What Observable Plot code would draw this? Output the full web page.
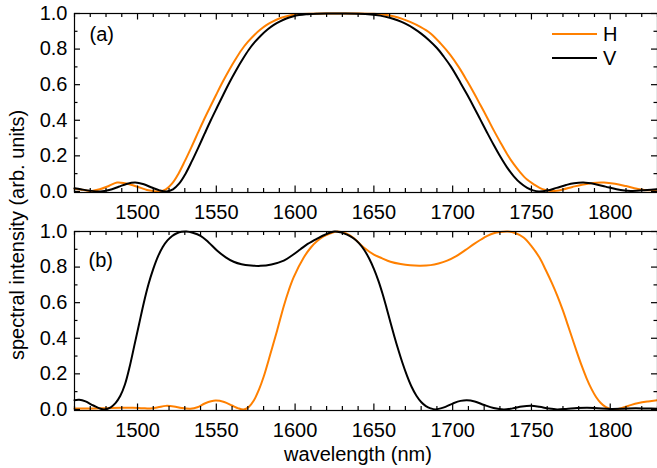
<!DOCTYPE html>
<html>
<head>
<meta charset="utf-8">
<script src="https://cdn.jsdelivr.net/npm/d3@7"></script>
<script src="https://cdn.jsdelivr.net/npm/@observablehq/plot@0.6"></script>
<style>
  html, body { margin: 0; padding: 0; background: #fff; }
  #wrap { position: relative; width: 657px; height: 468px; font-family: "Liberation Sans", Arial, sans-serif; }
  #legend { position: absolute; left: 552px; top: 22px; font-size: 20px; line-height: 24px; color: #000; }
  #legend .row { display: flex; align-items: center; height: 24px; }
  #legend svg { display: block; margin-right: 6px; }
</style>
</head>
<body>
<div id="wrap"></div>
<script>
// ---- data ----
const seriesNames = ["H", "V"];
const seriesColors = ["#ff8000", "#000000"];
const panels = ["a", "b"];
const panelLabels = ["(a)", "(b)"];
const xLabel = "wavelength (nm)";
const yLabel = "spectral intensity (arb. units)";
const xMajorTicks = [1500, 1550, 1600, 1650, 1700, 1750, 1800];
const yMajorTicks = [0, 0.2, 0.4, 0.6, 0.8, 1.0];
const yTickLabels = ["0.0", "0.2", "0.4", "0.6", "0.8", "1.0"];

// panel (a), H polarisation
const panelA_H = [
  [1460,0.015],[1466,0.008],[1471,0.003],[1476,0.012],[1482,0.032],[1487,0.05],[1492,0.046],
  [1497,0.035],[1502,0.02],[1506,0.008],[1510,0.002],[1514,0.0],[1518,0.012],[1522,0.045],
  [1526,0.1],[1530,0.17],[1534,0.245],[1538,0.323],[1542,0.4],[1546,0.473],[1550,0.545],
  [1554,0.615],[1558,0.68],[1562,0.74],[1566,0.795],[1570,0.84],[1574,0.878],[1578,0.91],
  [1582,0.936],[1586,0.956],[1590,0.972],[1594,0.983],[1598,0.991],[1602,0.996],[1610,0.999],
  [1620,1.0],[1630,1.0],[1640,1.0],[1650,0.998],[1657,0.993],[1663,0.983],[1668,0.97],[1673,0.953],
  [1679.5,0.925],[1686,0.888],[1692.3,0.832],[1698.6,0.766],[1704,0.697],[1709.2,0.62],[1713.5,0.553],
  [1717.7,0.484],[1722,0.413],[1726.1,0.343],[1730.4,0.274],[1734.6,0.209],[1738.8,0.153],
  [1743,0.106],[1747.2,0.067],[1751.5,0.04],[1755.2,0.02],[1758.9,0.008],[1762,0.003],[1766,0.004],
  [1770,0.011],[1776,0.025],[1782,0.038],[1789,0.048],[1796,0.05],[1803,0.043],[1810,0.03],
  [1817,0.015],[1823,0.007],[1830,0.01]
];
// panel (a), V polarisation
const panelA_V = [
  [1460,0.018],[1464,0.012],[1470,0.004],[1476.5,0.0],[1482,0.008],[1488,0.026],[1493,0.042],
  [1498.5,0.05],[1504,0.04],[1509,0.022],[1514,0.006],[1518.5,0.0],[1522.5,0.012],[1526.5,0.045],
  [1530.5,0.1],[1534.5,0.17],[1538.5,0.245],[1542.5,0.323],[1546.5,0.4],[1550.5,0.473],
  [1554.5,0.545],[1558.5,0.615],[1562.5,0.68],[1566.5,0.74],[1570.5,0.795],[1574.5,0.84],
  [1578.5,0.878],[1582.5,0.91],[1586.5,0.936],[1590.5,0.956],[1594.5,0.972],[1598.5,0.983],
  [1602.5,0.991],[1607,0.996],[1614,0.999],[1620,1.0],[1630,1.0],[1640,0.999],[1648,0.995],
  [1654,0.988],[1660,0.976],[1665,0.962],[1670,0.943],[1675,0.918],[1680,0.887],[1685,0.85],
  [1690,0.806],[1694.4,0.757],[1699,0.7],[1705,0.61],[1709,0.547],[1713.4,0.475],[1717.5,0.405],
  [1721.9,0.33],[1726,0.262],[1730.4,0.193],[1734.5,0.135],[1738.8,0.085],[1743,0.047],
  [1747.3,0.02],[1751,0.006],[1754.7,0.0],[1760,0.005],[1766,0.02],[1772,0.036],[1777,0.046],
  [1783,0.05],[1790,0.042],[1797,0.027],[1804,0.012],[1809,0.005],[1813,0.003],[1820,0.006],
  [1826,0.01],[1830,0.012]
];
// panel (b), H polarisation
const panelB_H = [
  [1460,0.005],[1470,0.005],[1480,0.007],[1490,0.009],[1497,0.01],[1503,0.007],[1508,0.005],
  [1513,0.012],[1518,0.02],[1523,0.017],[1528,0.008],[1533.5,0.004],[1538,0.012],[1543,0.035],
  [1549.5,0.05],[1555,0.042],[1560,0.022],[1564,0.006],[1567.4,0.0],[1570.5,0.013],[1573.8,0.05],
  [1577,0.11],[1580.1,0.185],[1584.4,0.314],[1588.6,0.444],[1592.8,0.58],[1596,0.67],[1599.2,0.745],
  [1605.5,0.854],[1610,0.91],[1614,0.946],[1618,0.972],[1622.5,0.99],[1627,1.0],
  [1632,0.99],[1637,0.965],[1643.6,0.91],[1650,0.87],[1655,0.85],[1660.5,0.83],[1667,0.817],
  [1673,0.81],[1679.6,0.808],[1686,0.811],[1691,0.82],[1696.5,0.836],[1702,0.86],[1708,0.895],
  [1713.4,0.929],[1718,0.955],[1722,0.975],[1726.1,0.99],[1730,0.997],[1735,1.0],[1740,0.99],
  [1745,0.966],[1750,0.918],[1755,0.855],[1759,0.785],[1763,0.71],[1766.5,0.637],[1770,0.555],
  [1773,0.477],[1776,0.397],[1779,0.318],[1782,0.243],[1785,0.175],[1788,0.117],[1791,0.07],
  [1794,0.036],[1797,0.014],[1800,0.003],[1802.5,0.0],[1807,0.007],[1812.9,0.024],[1818,0.036],
  [1824,0.045],[1830,0.052]
];
// panel (b), V polarisation
const panelB_V = [
  [1460,0.052],[1463,0.054],[1467,0.045],[1472,0.022],[1478.6,0.0],[1483,0.012],[1486,0.035],
  [1489,0.075],[1492,0.14],[1495,0.24],[1498,0.36],[1501,0.48],[1504,0.6],[1507,0.705],[1510,0.79],
  [1513,0.86],[1516,0.913],[1519,0.95],[1522,0.975],[1525,0.99],[1528,0.998],[1531,1.0],[1535,0.993],
  [1540,0.976],[1545,0.94],[1550.6,0.892],[1556,0.855],[1561,0.83],[1566,0.816],[1572,0.809],
  [1578,0.807],[1585,0.815],[1592.8,0.836],[1598,0.865],[1603.4,0.9],[1608,0.93],[1614,0.96],
  [1619,0.982],[1625,1.0],[1629,0.995],[1633,0.982],[1637,0.962],[1640.5,0.935],[1644,0.895],
  [1647,0.848],[1650,0.79],[1653,0.72],[1655.5,0.65],[1658,0.572],[1660.5,0.49],[1663,0.41],
  [1665.5,0.335],[1668,0.265],[1671,0.19],[1674,0.126],[1677,0.077],[1680,0.042],[1683,0.019],
  [1686,0.006],[1689,0.0],[1694,0.01],[1700,0.033],[1705,0.048],[1709,0.052],[1714,0.045],
  [1720,0.025],[1726,0.008],[1732.5,0.0],[1738,0.006],[1744,0.016],[1749.4,0.02],[1755,0.015],
  [1761,0.005],[1766.3,0.0],[1772,0.003],[1779,0.008],[1785.4,0.01],[1792,0.007],[1800,0.003],
  [1808,0.004],[1816,0.006],[1823,0.005],[1830,0.004]
];

// ---- layout constants ----
const W = 657, H = 468;
const mL = 74, mR = 0, mT = 13, mB = 58.5;
const gap = 39.5;
const bw = (H - mT - mB - gap) / 2;          // facet height
const step = bw + gap;
const pw = W - mL - mR;                       // frame width
const FONT = 20;
const INK = "#000";

const toRows = (arr, panel, series) => arr.map(([x, y]) => ({x, y, panel, series}));
const data = [
  ...toRows(panelA_H, "a", "H"), ...toRows(panelA_V, "a", "V"),
  ...toRows(panelB_H, "b", "H"), ...toRows(panelB_V, "b", "V")
];
const xMinor = d3.range(1460, 1831, 10).filter(v => !xMajorTicks.includes(v));
const yMinor = [0.1, 0.3, 0.5, 0.7, 0.9];

const chart = Plot.plot({
  width: W, height: H,
  marginLeft: mL, marginRight: mR, marginTop: mT, marginBottom: mB,
  style: {fontFamily: "'Liberation Sans', Arial, sans-serif", fontSize: FONT + "px", background: "#fff", overflow: "visible"},
  x: {domain: [1460, 1830], axis: null},
  y: {domain: [-0.006, 1.0], axis: null},
  fy: {domain: panels, axis: null, paddingInner: gap / step, paddingOuter: 0},
  color: {domain: seriesNames, range: seriesColors},
  marks: [
    // lines
    Plot.line(data, {x: "x", y: "y", fy: "panel", z: "series", stroke: "series", strokeWidth: 2, curve: "catmull-rom"}),
    // frame
    Plot.frame({stroke: INK, strokeWidth: 1.2}),
    // inward ticks: bottom / top
    Plot.tickX(xMajorTicks, {x: d => d, insetTop: bw - 6, stroke: INK, strokeWidth: 1.2}),
    Plot.tickX(xMinor, {x: d => d, insetTop: bw - 3.5, stroke: INK, strokeWidth: 1.2}),
    Plot.tickX(xMajorTicks, {x: d => d, insetBottom: bw - 6, stroke: INK, strokeWidth: 1.2}),
    Plot.tickX(xMinor, {x: d => d, insetBottom: bw - 3.5, stroke: INK, strokeWidth: 1.2}),
    // inward ticks: left / right
    Plot.tickY(yMajorTicks, {y: d => d, insetRight: pw - 6, stroke: INK, strokeWidth: 1.2}),
    Plot.tickY(yMinor, {y: d => d, insetRight: pw - 3.5, stroke: INK, strokeWidth: 1.2}),
    Plot.tickY(yMajorTicks, {y: d => d, insetLeft: pw - 6, stroke: INK, strokeWidth: 1.2}),
    Plot.tickY(yMinor, {y: d => d, insetLeft: pw - 3.5, stroke: INK, strokeWidth: 1.2}),
    // tick labels
    Plot.text(xMajorTicks, {x: d => d, frameAnchor: "bottom", lineAnchor: "middle", dy: 20, text: d => String(d), fontSize: FONT, fill: INK}),
    Plot.text(yMajorTicks, {y: d => d, frameAnchor: "left", lineAnchor: "middle", dx: -7, textAnchor: "end", text: (d, i) => yTickLabels[i], fontSize: FONT, fill: INK}),
    // panel labels
    Plot.text([panelLabels[0]], {fy: [panels[0]], frameAnchor: "top-left", lineAnchor: "middle", textAnchor: "start", dx: 15, dy: 21, text: d => d, fontSize: FONT, fill: INK}),
    Plot.text([panelLabels[1]], {fy: [panels[1]], frameAnchor: "top-left", lineAnchor: "middle", textAnchor: "start", dx: 14, dy: 29.5, text: d => d, fontSize: FONT, fill: INK}),
    // axis titles
    Plot.text([xLabel], {fy: [panels[1]], frameAnchor: "bottom", lineAnchor: "middle", textAnchor: "middle", dx: -8, dy: 44, text: d => d, fontSize: FONT, fill: INK}),
    Plot.text([yLabel], {fy: [panels[0]], frameAnchor: "bottom-left", lineAnchor: "middle", textAnchor: "middle", dx: -57, dy: 42.5, rotate: -90, text: d => d, fontSize: FONT, fill: INK})
  ]
});

const wrap = document.getElementById("wrap");
wrap.appendChild(chart);

// legend (HTML overlay inside panel a)
const legend = document.createElement("div");
legend.id = "legend";
seriesNames.forEach((name, i) => {
  const row = document.createElement("div");
  row.className = "row";
  row.innerHTML = `<svg width="45" height="4"><line x1="0" x2="45" y1="2" y2="2" stroke="${seriesColors[i]}" stroke-width="2"/></svg><span>${name}</span>`;
  legend.appendChild(row);
});
wrap.appendChild(legend);
</script>
</body>
</html>
